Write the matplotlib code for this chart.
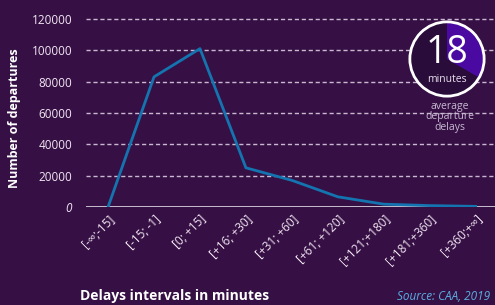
import numpy as np
import matplotlib.pyplot as plt
from matplotlib.patches import Circle, Wedge

categories = ['[-∞;-15]', '[-15; -1]', '[0; +15]', '[+16; +30]', '[+31; +60]',
              '[+61; +120]', '[+121;+180]', '[+181;+360]', '[+360;+∞]']
departures = [0, 83000, 101000, 25000, 17000, 6500, 1800, 900, 400]
yticks = [0, 20000, 40000, 60000, 80000, 100000, 120000]
avg_delay = 18

bg = '#361045'
textcol = '#f2e6f2'

plt.rcParams['font.family'] = ['Open Sans', 'DejaVu Sans']

fig = plt.figure(figsize=(4.95, 3.05), dpi=100, facecolor=bg)
ax = fig.add_axes([86/495, 1 - 207/305, 409/495, 196/305], facecolor=bg)

x = np.arange(len(categories))
ax.plot(x, departures, color='#1474b0', lw=2, zorder=3)

ax.set_xlim(-0.48, len(categories) - 1 + 0.42)
ax.set_ylim(0, 125000)
ax.set_yticks(yticks)
ax.set_yticklabels([str(v) for v in yticks], color=textcol, fontsize=8.5)
ax.get_yticklabels()[0].set_style('italic')
for v in yticks[1:]:
    ax.axhline(v, color='#c9b8cf', lw=1, ls=(0, (3, 2)), zorder=1)
ax.axhline(0, color='#d6cedc', lw=2, zorder=2)

ax.set_xticks(x)
ax.set_xticklabels(categories, rotation=45, ha='right', rotation_mode='anchor',
                   color=textcol, fontsize=8.5)
ax.tick_params(axis='both', length=0)
ax.tick_params(axis='y', pad=10)
ax.tick_params(axis='x', pad=4)
for s in ax.spines.values():
    s.set_visible(False)

fig.text(15/495, 1 - 118/305, 'Number of departures', rotation=90, ha='center',
         va='center', color='white', fontsize=9, fontweight='bold')
fig.text(80/495, 1 - 296/305, 'Delays intervals in minutes', ha='left', va='center',
         color='white', fontsize=10, fontweight='bold')
fig.text(490/495, 1 - 296/305, 'Source: CAA, 2019', ha='right', va='center',
         color='#5aaee0', fontsize=8.5, style='italic')

# average delay badge
bx = fig.add_axes([408/495, 1 - 98/305, 78/495, 78/305])
bx.set_xlim(-1.05, 1.05)
bx.set_ylim(-1.05, 1.05)
bx.set_aspect('equal')
bx.axis('off')
bx.add_patch(Circle((0, 0), 1, facecolor='#2a0c3a', edgecolor='none'))
bx.add_patch(Wedge((0, 0), 1, 90 - 120, 90, facecolor='#4a0aa2', edgecolor='none'))
bx.add_patch(Circle((0, 0), 1, facecolor='none', edgecolor='white', lw=2))
bx.text(0, 0.15, str(avg_delay), ha='center', va='center', color='white', fontsize=27)
bx.text(0, -0.55, 'minutes', ha='center', va='center', color='#e8e0ee', fontsize=7.5)

fig.text(450/495, 1 - 117/305, 'average\ndeparture\ndelays', ha='center', va='center',
         color='#c8b8d2', fontsize=7.5, linespacing=0.95)

fig.savefig('out.png', dpi=100, facecolor=bg)
